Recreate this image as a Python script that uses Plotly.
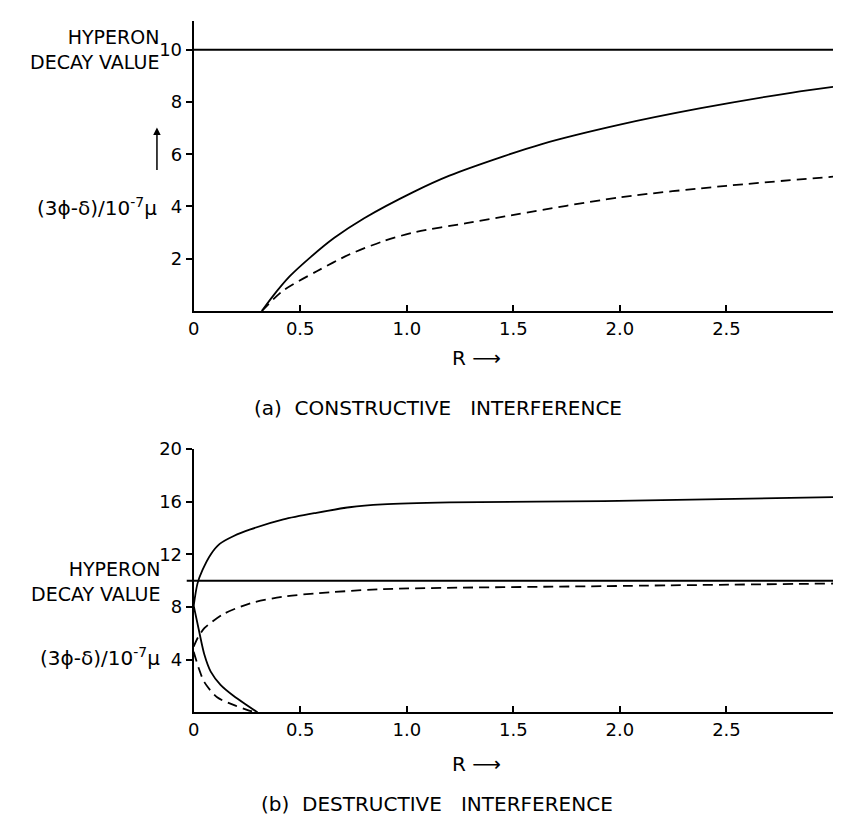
import plotly.graph_objects as go

# ---------------- data ----------------
HYPERON = 10.0

# (a) constructive interference
a_solid_R = [0.32, 0.37, 0.45, 0.55, 0.66, 0.80, 1.03, 1.20, 1.45, 1.63, 2.00, 2.38, 2.81, 3.00]
a_solid_V = [0.00, 0.55, 1.32, 2.07, 2.80, 3.55, 4.55, 5.18, 5.91, 6.38, 7.13, 7.76, 8.36, 8.58]
a_dash_R = [0.32, 0.42, 0.58, 0.73, 0.89, 1.04, 1.28, 1.46, 2.00, 2.50, 3.00]
a_dash_V = [0.00, 0.78, 1.53, 2.16, 2.67, 3.02, 3.36, 3.62, 4.35, 4.79, 5.14]

# (b) destructive interference
b_solid_up_R = [0.0, 0.018, 0.041, 0.08, 0.122, 0.188, 0.266, 0.421, 0.576, 0.731, 0.886, 1.2, 1.925, 3.0]
b_solid_up_V = [8.1, 9.8, 10.8, 12.0, 12.8, 13.4, 13.9, 14.66, 15.16, 15.58, 15.8, 15.95, 16.05, 16.35]
b_solid_lo_R = [0.0, 0.025, 0.05, 0.08, 0.126, 0.188, 0.25, 0.30]
b_solid_lo_V = [8.1, 6.2, 4.4, 3.1, 2.1, 1.25, 0.55, 0.0]
b_dash_up_R = [0.0, 0.02, 0.05, 0.08, 0.142, 0.266, 0.421, 0.576, 0.886, 1.925, 3.0]
b_dash_up_V = [5.0, 5.7, 6.4, 6.8, 7.49, 8.29, 8.79, 9.04, 9.36, 9.59, 9.79]
b_dash_lo_R = [0.0, 0.025, 0.05, 0.11, 0.19, 0.25, 0.29]
b_dash_lo_V = [4.6, 3.3, 2.3, 1.15, 0.55, 0.2, 0.0]

x_tickvals = [0, 0.5, 1.0, 1.5, 2.0, 2.5, 3.0]
x_ticktext = ["0", "0.5", "1.0", "1.5", "2.0", "2.5", "3.0"]
a_yticks = [2, 4, 6, 8, 10]
b_yticks = [4, 8, 12, 16, 20]

# ---------------- layout helpers ----------------
# the page body has an 8px margin, so the figure is made smaller and all
# positions below are given in the window's pixel coordinates
PAGE_W, PAGE_H = 841, 823
OFF = 8
W, H = PAGE_W - 2 * OFF, PAGE_H - 2 * OFF
def xp(px):
    return (px - OFF) / W
def yp(py):
    return 1 - (py - OFF) / H

FONT = "DejaVu Sans"
FS = 20
TFS = 18
BLACK = "black"

fig = go.Figure()

def line(x, y, xa, ya, dash=None):
    fig.add_trace(go.Scatter(
        x=x, y=y, xaxis=xa, yaxis=ya, mode="lines",
        line=dict(color=BLACK, width=1.8, dash=dash or "solid", shape="spline", smoothing=0.8),
        showlegend=False, hoverinfo="skip"))

line(a_solid_R, a_solid_V, "x", "y")
line(a_dash_R, a_dash_V, "x", "y", dash="10px,6px")
line(b_solid_up_R, b_solid_up_V, "x2", "y2")
line(b_solid_lo_R, b_solid_lo_V, "x2", "y2")
line(b_dash_up_R, b_dash_up_V, "x2", "y2", dash="10px,6px")
line(b_dash_lo_R, b_dash_lo_V, "x2", "y2", dash="10px,6px")

X0, X1 = 189, 833
x_dom = [xp(X0), xp(X1)]
xcommon = dict(range=[0, 3.0], showgrid=False, zeroline=False, showline=True,
               linecolor=BLACK, linewidth=2, ticks="inside", ticklen=6, tickwidth=1.5,
               tickcolor=BLACK, tickvals=x_tickvals, ticktext=x_ticktext,
               tickfont=dict(family=FONT, size=TFS, color=BLACK), domain=x_dom)
ycommon = dict(showgrid=False, zeroline=False, showline=True, linecolor=BLACK, linewidth=2,
               ticks="outside", ticklen=6, tickwidth=1.5, tickcolor=BLACK,
               tickfont=dict(family=FONT, size=TFS, color=BLACK))

fig.update_layout(
    width=W, height=H, margin=dict(l=0, r=0, t=0, b=0),
    paper_bgcolor="white", plot_bgcolor="white",
    xaxis=dict(**xcommon, anchor="y"),
    yaxis=dict(**ycommon, range=[0, 11.1], tickvals=a_yticks,
               domain=[yp(304), yp(10)], anchor="x"),
    xaxis2=dict(**xcommon, anchor="y2"),
    yaxis2=dict(**ycommon, range=[0, 20], tickvals=b_yticks,
                domain=[yp(711), yp(444)], anchor="x2"),
)

# hyperon decay value lines
span = X1 - X0
fig.add_shape(type="line", xref="x domain", yref="y", x0=0, x1=(PAGE_W - X0) / span,
              y0=HYPERON, y1=HYPERON, line=dict(color=BLACK, width=2))
fig.add_shape(type="line", xref="x2 domain", yref="y2", x0=-7 / span, x1=(836.5 - X0) / span,
              y0=HYPERON, y1=HYPERON, line=dict(color=BLACK, width=2))

def txt(s, x, y, xanchor="center", size=FS):
    fig.add_annotation(text=s, x=xp(x), y=yp(y), xref="paper", yref="paper",
                       xanchor=xanchor, yanchor="middle", showarrow=False, borderpad=0,
                       align="right" if xanchor == "right" else "center",
                       font=dict(family=FONT, size=size, color=BLACK))

ylab = "(3ϕ-δ)/10<sup>-7</sup>μ"
hyp = "HYPERON<br>DECAY VALUE"
gap = "\u00a0\u00a0\u00a0"
# top panel labels
txt(hyp, 155, 39, "right", size=19)
txt(ylab, 153, 199, "right")
txt("R ⟶", 474, 352)
txt("(a)\u00a0\u00a0CONSTRUCTIVE" + gap + "INTERFERENCE", 435, 402)
fig.add_annotation(x=xp(152), y=yp(118), xref="paper", yref="paper", ax=0, ay=44,
                   text="", showarrow=True, arrowhead=2, arrowsize=1, arrowwidth=1.5,
                   arrowcolor=BLACK)
# bottom panel labels
txt(hyp, 156, 578, "right", size=19)
txt(ylab, 156, 655, "right")
txt("R ⟶", 474, 763)
txt("(b)\u00a0\u00a0DESTRUCTIVE" + gap + "INTERFERENCE", 434, 804)

fig.write_html("out.html")
